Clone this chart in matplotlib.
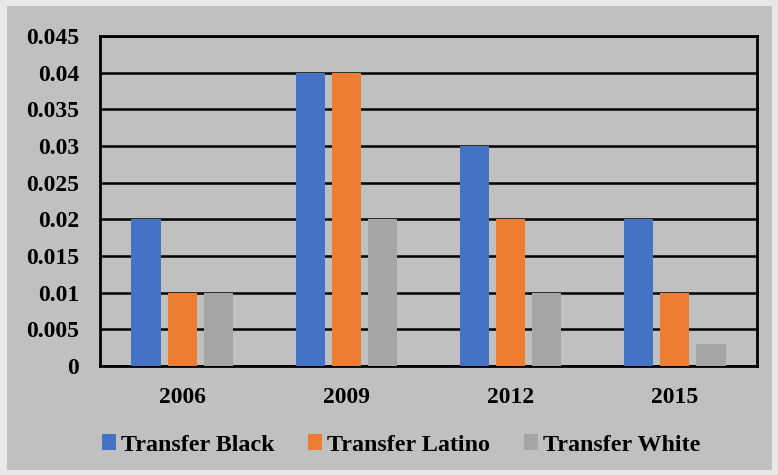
import numpy as np
import matplotlib
matplotlib.use("Agg")
import matplotlib.pyplot as plt
from matplotlib.patches import Rectangle

years = ["2006", "2009", "2012", "2015"]
transfer_black = [0.02, 0.04, 0.03, 0.02]
transfer_latino = [0.01, 0.04, 0.02, 0.01]
transfer_white = [0.01, 0.02, 0.01, 0.003]
series_names = ["Transfer Black", "Transfer Latino", "Transfer White"]
colors = ["#4472c4", "#ed7d31", "#a5a5a5"]
yticks = [0, 0.005, 0.01, 0.015, 0.02, 0.025, 0.03, 0.035, 0.04, 0.045]
ytick_labels = ["0", "0.005", "0.01", "0.015", "0.02", "0.025", "0.03", "0.035", "0.04", "0.045"]

plt.rcParams["font.family"] = ["Liberation Serif", "DejaVu Serif"]
plt.rcParams["font.weight"] = "bold"

fig = plt.figure(figsize=(7.78, 4.75), dpi=100)
fig.patch.set_facecolor("#e8e8e8")
# grey chart area inside a light border
fig.add_artist(Rectangle((7 / 778, 5 / 475), 765 / 778, 464 / 475,
                         transform=fig.transFigure, facecolor="#c0c0c0",
                         edgecolor="none", zorder=-10))

ax = fig.add_axes([100 / 778, 1 - 366 / 475, 657 / 778, 330 / 475])
ax.set_facecolor("#c0c0c0")

x = np.arange(len(years))
width = 0.177
step = 0.22
for i, (vals, name) in enumerate(zip([transfer_black, transfer_latino, transfer_white], series_names)):
    ax.bar(x + (i - 1) * step, vals, width, color=colors[i], label=name, zorder=3)

ax.set_xlim(-0.5, len(years) - 0.5)
ax.set_ylim(0, 0.045)
ax.set_yticks(yticks)
ax.set_yticklabels(ytick_labels, fontsize=17, fontweight="bold")
ax.set_xticks(x)
ax.set_xticklabels(years, fontsize=17, fontweight="bold")
ax.tick_params(length=0)
ax.tick_params(axis="y", pad=15)
ax.tick_params(axis="x", pad=15)
ax.yaxis.grid(True, color="black", linewidth=1.8, zorder=1)
ax.set_axisbelow(True)
for s in ax.spines.values():
    s.set_linewidth(2)
    s.set_color("black")

fig.legend(loc="center", bbox_to_anchor=(0.5 + 12 / 778, 1 - 445 / 475), ncol=3,
           frameon=False, prop={"size": 17.3, "weight": "bold"},
           handlelength=0.6, handleheight=0.6, handletextpad=0.2, columnspacing=1.4)

fig.savefig("out.png", dpi=100, facecolor=fig.get_facecolor())
